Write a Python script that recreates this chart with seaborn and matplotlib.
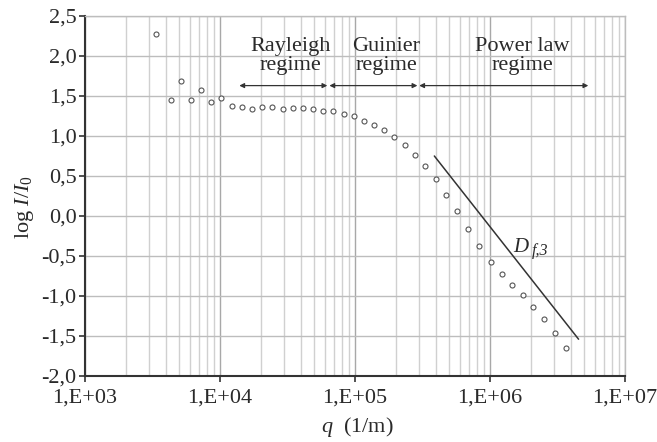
import matplotlib
matplotlib.use("Agg")
import matplotlib.pyplot as plt
import matplotlib.ticker as mticker
import seaborn as sns
import pandas as pd

# ---- data ----
q_values = [3.36e3, 4.32e3, 5.12e3, 6.07e3, 7.23e3, 8.57e3, 1.02e4, 1.22e4, 1.46e4, 1.73e4,
            2.06e4, 2.44e4, 2.91e4, 3.45e4, 4.12e4, 4.89e4, 5.82e4, 6.90e4, 8.24e4, 9.77e4,
            1.17e5, 1.38e5, 1.65e5, 1.95e5, 2.33e5, 2.78e5, 3.32e5, 3.96e5, 4.72e5, 5.70e5,
            6.82e5, 8.34e5, 1.02e6, 1.22e6, 1.46e6, 1.75e6, 2.10e6, 2.52e6, 3.03e6, 3.64e6]
log_intensity = [2.275, 1.454, 1.684, 1.446, 1.579, 1.421, 1.475, 1.379, 1.362, 1.342,
                 1.358, 1.358, 1.342, 1.346, 1.346, 1.334, 1.309, 1.309, 1.275, 1.246,
                 1.191, 1.141, 1.075, 0.988, 0.888, 0.766, 0.625, 0.459, 0.266, 0.063,
                 -0.159, -0.371, -0.571, -0.721, -0.863, -0.991, -1.138, -1.291, -1.466, -1.654]

fit_q = [3.87e5, 4.53e6]
fit_logI = [0.75, -1.54]

regime_names = ["Rayleigh\nregime", "Guinier\nregime", "Power law\nregime"]
regime_starts = [1.39e4, 6.46e4, 2.99e5]
regime_ends = [6.24e4, 2.90e5, 5.35e6]
regime_label_q = [3.31e4, 1.71e5, 1.74e6]
regime_arrow_y = 1.63
regime_label_y = 2.0

slope_label = "D"
slope_sub = "f,3"
slope_label_q = 1.48e6
slope_label_y = -0.4

x_ticks = [1e3, 1e4, 1e5, 1e6, 1e7]
x_tick_labels = ["1,E+03", "1,E+04", "1,E+05", "1,E+06", "1,E+07"]
y_ticks = [-2.0, -1.5, -1.0, -0.5, 0.0, 0.5, 1.0, 1.5, 2.0, 2.5]
y_tick_labels = ["-2,0", "-1,5", "-1,0", "-0,5", "0,0", "0,5", "1,0", "1,5", "2,0", "2,5"]

# ---- style ----
sns.set_theme(style="white")
plt.rcParams["font.family"] = ["Liberation Serif", "DejaVu Serif"]
plt.rcParams["mathtext.fontset"] = "custom"
plt.rcParams["mathtext.rm"] = "Liberation Serif"
plt.rcParams["mathtext.it"] = "Liberation Serif:italic"

TXT = "#2a2a2a"

fig = plt.figure(figsize=(6.57, 4.42), dpi=100)
ax = fig.add_axes([85 / 657, 66 / 442, 540 / 657, 360 / 442])

df = pd.DataFrame({"q": q_values, "logI": log_intensity})
sns.scatterplot(data=df, x="q", y="logI", ax=ax, marker="o", s=13,
                facecolor="white", edgecolor="#555555", linewidth=0.8, zorder=4)
fit_df = pd.DataFrame({"q": fit_q, "logI": fit_logI})
sns.lineplot(data=fit_df, x="q", y="logI", ax=ax, color="#333333", linewidth=1.1, zorder=3)

ax.set_xscale("log")
ax.set_xlim(1e3, 1e7)
ax.set_ylim(-2.0, 2.5)

ax.xaxis.set_major_locator(mticker.FixedLocator(x_ticks))
ax.xaxis.set_major_formatter(mticker.FixedFormatter(x_tick_labels))
ax.xaxis.set_minor_locator(mticker.LogLocator(base=10, subs=range(2, 10)))
ax.xaxis.set_minor_formatter(mticker.NullFormatter())
ax.yaxis.set_major_locator(mticker.FixedLocator(y_ticks))
ax.yaxis.set_major_formatter(mticker.FixedFormatter(y_tick_labels))

ax.grid(which="major", axis="x", color="#a8a8a8", linewidth=1.0, zorder=0)
ax.grid(which="minor", axis="x", color="#d0d0d0", linewidth=1.0, zorder=0)
ax.grid(which="major", axis="y", color="#bdbdbd", linewidth=1.0, zorder=0)
ax.set_axisbelow(True)

ax.tick_params(axis="both", which="major", direction="out", length=4, width=1.2,
               color="#333333", labelsize=16, labelcolor=TXT, bottom=True, left=True)
ax.tick_params(axis="x", which="major", pad=5)
ax.tick_params(axis="y", which="major", pad=2)
ax.tick_params(axis="x", which="minor", length=0)

for side in ["left", "bottom"]:
    ax.spines[side].set_color("#333333")
    ax.spines[side].set_linewidth(1.5)
for side in ["top", "right"]:
    ax.spines[side].set_color("#bdbdbd")
    ax.spines[side].set_linewidth(1.0)

ax.set_xlabel("$q$  (1/m)", fontsize=16, color=TXT, va="center")
ax.xaxis.set_label_coords(0.504, -0.143)
ax.set_ylabel("log $I/I_0$", fontsize=16, color=TXT, va="center")
ax.yaxis.set_label_coords(-0.112, 0.47)

# regime arrows and labels
for name, start, end, lq in zip(regime_names, regime_starts, regime_ends, regime_label_q):
    ax.annotate("", xy=(start, regime_arrow_y), xytext=(end, regime_arrow_y),
                arrowprops=dict(arrowstyle="<|-|>", color="#333333", lw=0.9,
                                mutation_scale=7, shrinkA=0, shrinkB=0), zorder=5)
    ax.text(lq, regime_label_y, name, ha="center", va="center", fontsize=16,
            color=TXT, linespacing=1.0, zorder=5)

ax.annotate(slope_label, xy=(slope_label_q, slope_label_y), xytext=(0, 0),
            textcoords="offset points", fontsize=15, style="italic", color=TXT,
            ha="left", va="center")
ax.annotate(slope_sub, xy=(slope_label_q, slope_label_y), xytext=(13.5, -2.5),
            textcoords="offset points", fontsize=11.5, style="italic", color=TXT,
            ha="left", va="center")

fig.savefig("out.png", dpi=100)
